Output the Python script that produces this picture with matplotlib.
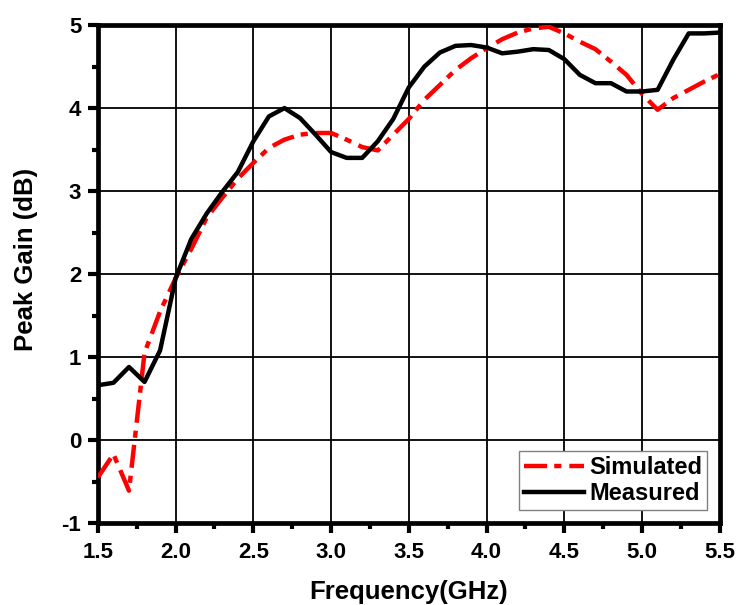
import matplotlib

matplotlib.use("Agg")
import matplotlib.pyplot as plt
from matplotlib.ticker import FormatStrFormatter, MultipleLocator

# measured curve (0.1 GHz steps)
freq_meas = [1.5, 1.6, 1.7, 1.8, 1.9, 2.0, 2.1, 2.2, 2.3, 2.4, 2.5, 2.6, 2.7, 2.8,
             2.9, 3.0, 3.1, 3.2, 3.3, 3.4, 3.5, 3.6, 3.7, 3.8, 3.9, 4.0, 4.1, 4.2,
             4.3, 4.4, 4.5, 4.6, 4.7, 4.8, 4.9, 5.0, 5.1, 5.2, 5.3, 5.4, 5.5]
gain_meas = [0.66, 0.69, 0.88, 0.70, 1.08, 1.95, 2.42, 2.73, 2.99, 3.23, 3.60, 3.90,
             4.00, 3.88, 3.68, 3.47, 3.40, 3.40, 3.60, 3.87, 4.25, 4.50, 4.67, 4.75,
             4.76, 4.73, 4.66, 4.68, 4.71, 4.70, 4.59, 4.40, 4.30, 4.30, 4.20, 4.20,
             4.22, 4.58, 4.90, 4.90, 4.91]

# simulated curve
freq_sim = [1.5, 1.6, 1.7, 1.8, 1.9, 2.0, 2.1, 2.2, 2.3, 2.4, 2.5, 2.6, 2.7, 2.8,
            2.9, 3.0, 3.1, 3.2, 3.3, 3.4, 3.5, 3.6, 3.7, 3.8, 3.9, 4.0, 4.1, 4.2,
            4.3, 4.4, 4.5, 4.6, 4.7, 4.8, 4.9, 5.0, 5.1, 5.2, 5.3, 5.4, 5.5]
gain_sim = [-0.45, -0.17, -0.61, 1.05, 1.55, 1.95, 2.30, 2.68, 2.92, 3.15, 3.34, 3.52,
            3.62, 3.68, 3.70, 3.70, 3.62, 3.53, 3.49, 3.68, 3.87, 4.10, 4.28, 4.46,
            4.60, 4.72, 4.83, 4.91, 4.96, 4.98, 4.90, 4.80, 4.71, 4.56, 4.40, 4.17,
            3.98, 4.12, 4.22, 4.32, 4.41]

plt.rcParams["font.family"] = ["Liberation Sans", "DejaVu Sans"]
plt.rcParams["font.weight"] = "bold"
plt.rcParams["axes.unicode_minus"] = False

fig = plt.figure(figsize=(7.36, 6.05), dpi=100)
ax = fig.add_axes([0.133, 0.1355, 0.845, 0.823])

ax.plot(freq_sim, gain_sim, color="#ff0000", lw=3.2, dashes=(5.2, 1.6, 1.6, 1.8),
        dash_capstyle="butt", label="Simulated", zorder=3)
ax.plot(freq_meas, gain_meas, color="black", lw=3.2, label="Measured", zorder=4)

ax.set_xlim(1.5, 5.5)
ax.set_ylim(-1, 5)
ax.xaxis.set_major_locator(MultipleLocator(0.5))
ax.xaxis.set_minor_locator(MultipleLocator(0.25))
ax.yaxis.set_major_locator(MultipleLocator(1))
ax.yaxis.set_minor_locator(MultipleLocator(0.5))
ax.xaxis.set_major_formatter(FormatStrFormatter("%.1f"))

ax.grid(True, which="major", color="black", lw=1.3)
ax.tick_params(which="major", direction="out", length=7, width=3, labelsize=16, pad=5)
ax.tick_params(axis="x", which="major", pad=7)
ax.tick_params(which="minor", direction="out", length=4.5, width=3)
for sp in ax.spines.values():
    sp.set_linewidth(3.4)

ax.set_xlabel("Frequency(GHz)", fontsize=18.5, fontweight="bold")
ax.xaxis.set_label_coords(0.5, -0.114)
ax.set_ylabel("Peak Gain (dB)", fontsize=18.5, fontweight="bold")
ax.yaxis.set_label_coords(-0.096, 0.53)

leg = ax.legend(loc="lower right", fontsize=17, handlelength=2.55, handletextpad=0.2,
                borderpad=0.2, labelspacing=0.15, fancybox=False, framealpha=1,
                edgecolor="#808080", borderaxespad=0.55)
leg.get_frame().set_linewidth(1.0)

fig.savefig("out.png", dpi=100)
